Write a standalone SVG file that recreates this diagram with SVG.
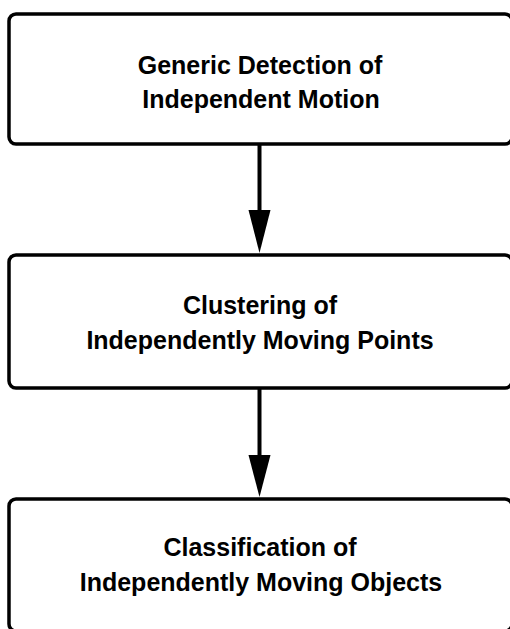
<svg xmlns="http://www.w3.org/2000/svg" width="510" height="629" viewBox="0 0 510 629">
<defs>
<style>
.box{fill:#fff;stroke:#000;stroke-width:3.5}
.lbl{font-family:"Liberation Sans",Arial,sans-serif;font-weight:bold;font-size:25px;fill:#000;text-anchor:middle}
.conn{stroke:#000;stroke-width:4;fill:none}
</style>
</defs>
<rect width="510" height="629" fill="#fff"/>
<g id="connectors">
<line class="conn" x1="259.5" y1="145" x2="259.5" y2="210"/>
<path d="M248.5,210 L270.5,210 L259.5,253 Z" fill="#000"/>
<line class="conn" x1="259.5" y1="389" x2="259.5" y2="455"/>
<path d="M248.5,455 L270.5,455 L259.5,497 Z" fill="#000"/>
</g>
<g id="node1">
<rect class="box" x="9" y="14" width="503" height="130" rx="7"/>
<text class="lbl" x="260" y="74">Generic Detection of</text>
<text class="lbl" x="261" y="108">Independent Motion</text>
</g>
<g id="node2">
<rect class="box" x="9" y="255" width="503" height="133" rx="7"/>
<text class="lbl" x="260" y="314">Clustering of</text>
<text class="lbl" x="260" y="349">Independently Moving Points</text>
</g>
<g id="node3">
<rect class="box" x="9" y="499" width="503" height="132" rx="7"/>
<text class="lbl" x="260" y="556">Classification of</text>
<text class="lbl" x="261" y="591">Independently Moving Objects</text>
</g>
</svg>
